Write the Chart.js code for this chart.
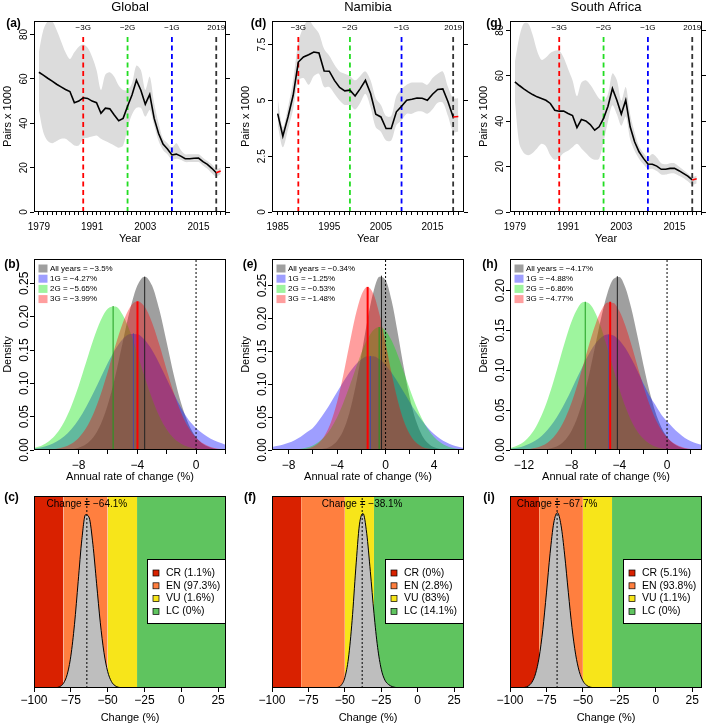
<!DOCTYPE html>
<html>
<head>
<meta charset="utf-8">
<script src="https://cdn.jsdelivr.net/npm/chart.js@4.4.1/dist/chart.umd.min.js"></script>
<style>
  body { margin: 0; background: #fff; width: 709px; height: 724px; position: relative; overflow: hidden; }
  canvas { position: absolute; }
</style>
</head>
<body>
<script>
const FONT = '"Liberation Sans", Arial, Helvetica, sans-serif';
const minus = v => String(v).replace('-', '\u2212');

/* ===============================
   Top row: breeding pairs (x 1000)
================================ */
const yearsA = [1979,1980,1981,1982,1983,1984,1985,1986,1987,1988,1989,1990,1991,1992,1993,1994,1995,1996,1997,1998,
  1999,2000,2001,2002,2003,2004,2005,2006,2007,2008,2009,2010,2011,2012,2013,2014,2015,2016,2017,2018,2019,2020];
const yearsN = [1985,1986,1987,1988,1989,1990,1991,1992,1993,1994,1995,1996,1997,1998,1999,2000,2001,2002,2003,2004,
  2005,2006,2007,2008,2009,2010,2011,2012,2013,2014,2015,2016,2017,2018,2019,2020];
const projYears = [2019, 2020];

const globalPairs = [63.0,61.7,60.3,59.0,57.6,56.4,55.2,54.3,49.3,50.0,51.5,51.2,50.0,49.3,44.5,46.8,46.5,43.7,41.1,42.2,
  47.7,52.7,59.4,54.9,48.6,53.0,42.2,35.4,30.6,28.4,25.7,26.1,25.2,24.0,24.0,24.2,24.3,22.7,21.5,19.7,17.7];
const globalUpper = [72,82,86,86,82,77,72,69,72,74.5,75.5,74,70,64,55,62,63,61,57,55,
  55,58,66,64,55,61,49,40,33,31,29,31,28,26,26,26,26,24.5,23,21.5,19.5,20];
const globalLower = [46,36,32,31,32,33,33,31.5,30,30,33,33.5,34,34.5,33,32,31,30,29,30,
  38,44,47,47,43,46,39,32,28,26,23.5,24,23.5,22.5,22.5,22.5,22.5,21,19.5,17.5,16,17];
const globalProj = [17.7, 18.5];

const namPairs = [4.41,3.40,4.26,5.23,6.72,6.95,7.05,7.17,7.13,6.32,6.31,5.90,5.58,5.43,5.46,5.20,5.53,5.90,5.31,4.38,
  4.26,3.74,3.74,4.49,4.74,5.01,5.05,5.11,5.10,5.01,5.28,5.49,5.52,4.94,4.26];
const namUpper = [5.1,3.8,4.7,5.9,7.6,8.3,8.6,8.3,8.0,7.3,7.0,6.6,6.3,6.2,6.1,5.9,6.1,6.3,5.9,5.1,
  4.8,4.3,4.3,5.2,5.5,5.7,5.8,5.8,5.8,5.7,6.0,6.2,6.3,5.6,5.1,5.1];
const namLower = [3.9,2.9,3.7,4.6,5.9,6.0,5.7,6.1,6.2,5.6,5.6,5.3,5.0,4.8,4.8,4.6,4.9,5.3,4.7,3.8,
  3.6,3.2,3.2,3.9,4.1,4.4,4.4,4.5,4.5,4.4,4.6,4.9,4.9,4.3,3.6,3.6];
const namProj = [4.26, 4.28];

const saPairs = [57.3,55.7,54.2,52.9,51.7,50.7,50.0,49.2,47.8,44.8,44.4,44.4,43.4,42.5,37.2,40.7,40.1,38.5,36.0,37.5,
  41.2,46.6,54.4,49.2,43.1,49.2,37.5,30.9,26.5,23.6,21.1,21.0,20.2,18.8,18.8,19.2,19.2,18.2,17.0,15.8,14.1];
const saUpper = [66,77,83,83,78,71,67,68,70,71,71,68,63,58,51,57,58,56,53,50,
  49,52,61,58,49,55,43,35,29,26,24,25.5,24,21.5,21,21.5,21.5,20,18.5,17,15.5,16];
const saLower = [49,30,26,25,26,28,30,29,25,23,24,26,27,28.5,30,28,26,24,23,23.5,
  31,40,47,43,38,42,32,27,23.5,21,19,19,18,16.5,16.5,17,17,16,15,13.5,12,12.5];
const saProj = [14.1, 14.6];

const genYears = [1989, 1999, 2009, 2019];
const genLabels = ['\u22123G', '\u22122G', '\u22121G', '2019'];
const genColors = ['#ff0000', '#22dd22', '#0000ff', '#333333'];

const yearLabelsA = [1979, 1991, 2003, 2015];
const yearLabelsN = [1985, 1995, 2005, 2015];
const pairTicksA = [0, 20, 40, 60, 80];
const pairTicksN = [0, 2.5, 5, 7.5];

/* ===============================
   Middle row: annual rate of change densities
================================ */
const distNames = ['All years', '1G', '2G', '3G'];

const bX = [-11,-10.5,-10,-9.5,-9,-8.5,-8,-7.5,-7,-6.5,-6,-5.5,-5,-4.5,-4,-3.5,-3,-2.5,-2,-1.5,-1,-0.5,0,0.5,1,1.5,2];
const bAll = [0,0,0,0.0001,0.0004,0.0013,0.0035,0.0087,0.0193,0.0384,0.0689,0.1111,0.1612,0.2102,0.2466,0.260,0.2466,0.2102,0.1612,0.1111,0.0689,0.0384,0.0193,0.0087,0.0035,0.0013,0.0004];
const b1G = [0.0022,0.0042,0.0074,0.0126,0.0203,0.0313,0.0459,0.0642,0.0855,0.1085,0.1312,0.1513,0.1663,0.1741,0.1738,0.1653,0.1499,0.1295,0.1066,0.0837,0.0626,0.0450,0.033,0.024,0.017,0.012,0.008];
const b2G = [0.0033,0.0069,0.0135,0.0246,0.0417,0.0657,0.0961,0.1308,0.1654,0.1943,0.2122,0.2153,0.2030,0.1779,0.1449,0.1097,0.0772,0.0505,0.0307,0.0173,0.0091,0.0044,0.0020,0.0008,0.0003,0.0001,0];
const b3G = [0.0001,0.0003,0.0008,0.0019,0.0044,0.0093,0.0181,0.0325,0.0541,0.0833,0.1186,0.1562,0.1901,0.2141,0.2230,0.2148,0.1913,0.1577,0.1201,0.0847,0.0552,0.0332,0.0185,0.0096,0.0046,0.0020,0.0008];
const bMeans = [-3.5, -4.27, -5.65, -3.99];
const bPeaks = [0.260, 0.175, 0.216, 0.223];

const eX = [-9.5,-9,-8.5,-8,-7.5,-7,-6.5,-6,-5.5,-5,-4.5,-4,-3.5,-3,-2.5,-2,-1.5,-1,-0.5,0,0.5,1,1.5,2,2.5,3,3.5,4,4.5,5,5.5,6,6.5];
const eAll = [0,0,0,0,0,0,0.0001,0.0002,0.0007,0.0022,0.0058,0.0138,0.0292,0.0556,0.0946,0.1442,0.1969,0.2407,0.2635,0.2583,0.2268,0.1783,0.1255,0.0791,0.0447,0.0226,0.0102,0.0041,0.0015,0.0005,0.0001,0,0];
const e1G = [0.004,0.006,0.008,0.011,0.015,0.020,0.027,0.0336,0.0448,0.0580,0.0726,0.0880,0.1033,0.1175,0.1293,0.1379,0.1424,0.1424,0.1379,0.1293,0.1175,0.1033,0.0880,0.0726,0.0580,0.0448,0.0336,0.0244,0.0171,0.0116,0.0077,0.0049,0.0030];
const e2G = [0,0.0001,0.0002,0.0004,0.0009,0.0019,0.0037,0.0070,0.0124,0.0208,0.0331,0.0498,0.0710,0.0957,0.1221,0.1475,0.1686,0.1825,0.1870,0.1813,0.1664,0.1446,0.1189,0.0925,0.0682,0.0476,0.0314,0.0196,0.0116,0.0065,0.0034,0.0017,0.0008];
const e3G = [0,0,0,0.0001,0.0002,0.0007,0.0019,0.0048,0.0109,0.0227,0.0426,0.0728,0.1128,0.1587,0.2029,0.2354,0.2480,0.2372,0.2060,0.1624,0.1163,0.0756,0.0446,0.0239,0.0116,0.0051,0.0021,0.0007,0.0002,0.0001,0,0,0];
const eMeans = [-0.34, -1.25, -0.53, -1.48];
const ePeaks = [0.265, 0.143, 0.187, 0.248];

const hX = [-13.5,-13,-12.5,-12,-11.5,-11,-10.5,-10,-9.5,-9,-8.5,-8,-7.5,-7,-6.5,-6,-5.5,-5,-4.5,-4,-3.5,-3,-2.5,-2,-1.5,-1,-0.5,0,0.5,1,1.5,2,2.5,3];
const hAll = [0,0,0,0,0.0001,0.0002,0.0005,0.0014,0.0031,0.0067,0.0133,0.0244,0.0416,0.0659,0.0969,0.1322,0.1674,0.1967,0.2145,0.2171,0.2039,0.1777,0.1438,0.1079,0.0752,0.0486,0.0292,0.0163,0.0084,0.0040,0.0018,0.0007,0.0003,0.0001];
const h1G = [0.0011,0.0019,0.0031,0.0051,0.0080,0.0122,0.0180,0.0256,0.0354,0.0472,0.0610,0.0762,0.0921,0.1077,0.1219,0.1335,0.1414,0.1449,0.1436,0.1378,0.1278,0.1148,0.0997,0.0838,0.0690,0.0570,0.0450,0.036,0.028,0.021,0.015,0.011,0.008,0.006];
const h2G = [0.0015,0.0031,0.0059,0.0105,0.0179,0.0289,0.0441,0.0637,0.0872,0.1131,0.1389,0.1615,0.1779,0.1856,0.1834,0.1716,0.1521,0.1277,0.1015,0.0765,0.0545,0.0368,0.0236,0.0143,0.0082,0.0045,0.0023,0.0011,0.0005,0.0002,0.0001,0,0,0];
const h3G = [0,0.0001,0.0003,0.0006,0.0014,0.0027,0.0052,0.0095,0.0164,0.0266,0.0410,0.0599,0.0828,0.1083,0.1343,0.1578,0.1755,0.1849,0.1845,0.1744,0.1561,0.1323,0.1062,0.0808,0.0582,0.0397,0.0256,0.0157,0.0091,0.0050,0.0026,0.0013,0.0006,0.0003];
const hMeans = [-4.17, -4.88, -6.86, -4.77];
const hPeaks = [0.218, 0.145, 0.186, 0.186];

const densTicks5 = [0, 0.05, 0.10, 0.15, 0.20, 0.25];
const densTicks4 = [0, 0.05, 0.10, 0.15, 0.20];

/* ===============================
   Bottom row: overall change vs IUCN categories
================================ */
const iucnCats = ['CR', 'EN', 'VU', 'LC'];
const iucnEdges = [-100, -80, -50, -30, 35];
const iucnColors = ['#d92100', '#ff7f3f', '#f7e51a', '#5fc45f'];

const cX = [-95,-92.5,-90,-87.5,-85,-82.5,-80,-77.5,-75,-72.5,-70,-67.5,-65,-62.5,-60,-57.5,-55,-52.5,-50,-47.5,-45,-42.5,-40,-37.5,-35];
const cDens = [0,0,0.0001,0.0004,0.0019,0.0077,0.0265,0.0758,0.1814,0.3628,0.6065,0.847,0.9884,0.9702,0.8196,0.5972,0.3753,0.2034,0.0951,0.0383,0.0133,0.0040,0.0010,0.0002,0];
const cPct = [1.1, 97.3, 1.6, 0];

const fX = [-65,-62.5,-60,-57.5,-55,-52.5,-50,-47.5,-45,-42.5,-40,-37.5,-35,-32.5,-30,-27.5,-25,-22.5,-20,-17.5,-15,-12.5,-10,-7.5];
const fDens = [0,0,0.0001,0.0005,0.0033,0.0158,0.0589,0.1708,0.3859,0.679,0.9303,0.9953,0.8825,0.6651,0.426,0.232,0.1073,0.045,0.02,0.008,0.003,0.001,0.0003,0];
const fPct = [0, 2.8, 83, 14.1];

const iX = [-100,-97.5,-95,-92.5,-90,-87.5,-85,-82.5,-80,-77.5,-75,-72.5,-70,-67.5,-65,-62.5,-60,-57.5,-55,-52.5,-50,-47.5,-45,-42.5,-40,-37.5,-35];
const iDens = [0,0,0.0002,0.0009,0.0033,0.0111,0.0322,0.0809,0.1761,0.332,0.5424,0.7676,0.9411,0.9996,0.9283,0.7589,0.5461,0.3458,0.1929,0.0947,0.0409,0.0156,0.0052,0.0015,0.0004,0.0001,0];
const iPct = [5.1, 93.8, 1.1, 0];

const changeMeans = [-64.1, -38.1, -67.7];
const changeTicks = [-100, -75, -50, -25, 0, 25];

/* ===============================
   Layout (page grid)
================================ */
const colX = [0, 236, 472], colW = [236, 236, 237];
const rowY = [0, 245, 484], rowH = [245, 239, 240];
const boxL = [34, 272, 510], boxT = [21, 259, 496];
const BOX_W = 192, BOX_H = [191, 191, 192];

const pts = (xs, ys) => ys.map((y, i) => ({ x: xs[i], y }));
const yFit = s => { s.width = 0; };
const below = row => rowY[row] + rowH[row] - boxT[row] - BOX_H[row];

function mount(id, col, row) {
  const c = document.createElement('canvas');
  c.id = id;
  c.width = colW[col];
  c.height = rowH[row];
  c.style.left = colX[col] + 'px';
  c.style.top = rowY[row] + 'px';
  document.body.appendChild(c);
  return c;
}

function padding(col, row) {
  return {
    left: boxL[col] - colX[col],
    top: boxT[row] - rowY[row],
    right: colX[col] + colW[col] - boxL[col] - BOX_W,
    bottom: 0
  };
}

function tickGrid(len) {
  return { display: true, drawOnChartArea: false, drawTicks: true, tickLength: len, color: '#000', tickColor: '#000', lineWidth: 1 };
}

function xAxis(row, min, max, ticks, labelled, tl, pad, size) {
  return {
    type: 'linear', min, max,
    afterBuildTicks: s => { s.ticks = ticks.map(v => ({ value: v })); },
    afterFit: s => { s.height = below(row); },
    grid: tickGrid(tl),
    border: { display: false },
    ticks: {
      autoSkip: false, maxRotation: 0, minRotation: 0, padding: pad, color: '#000',
      font: { family: FONT, size },
      callback: v => labelled.includes(v) ? minus(v) : ''
    }
  };
}

function yAxis(min, max, ticks, pos) {
  return {
    type: 'linear', position: pos, min, max,
    afterBuildTicks: s => { s.ticks = ticks.map(v => ({ value: v })); },
    afterFit: yFit,
    grid: tickGrid(4),
    border: { display: false },
    ticks: { autoSkip: false, callback: () => '' }
  };
}

/* ===============================
   Text, frame and legends
================================ */
const panelDecor = {};

function label(ctx, s, x, y, font, align, rot) {
  ctx.save();
  ctx.translate(x, y);
  if (rot) ctx.rotate(rot);
  ctx.font = font;
  ctx.textAlign = align || 'center';
  ctx.textBaseline = 'middle';
  ctx.fillStyle = '#000';
  ctx.fillText(s, 0, 0);
  ctx.restore();
}

const decorPlugin = {
  id: 'decor',
  afterDraw(chart) {
    const d = panelDecor[chart.canvas.id];
    const { ctx, chartArea: a, scales } = chart;
    const cx = (a.left + a.right) / 2, cy = (a.top + a.bottom) / 2;
    ctx.save();

    if (d.catLegend) {
      const w = 79, h = 65, x0 = Math.round(a.right - w), y0 = Math.round(a.top + 63);
      ctx.fillStyle = '#fff';
      ctx.fillRect(x0, y0, w, h);
      ctx.strokeStyle = '#000';
      ctx.lineWidth = 1;
      ctx.strokeRect(x0 + 0.5, y0 + 0.5, w - 1, h - 1);
      iucnCats.forEach((cat, i) => {
        const yy = y0 + 14 + i * 12.8;
        ctx.fillStyle = iucnColors[i];
        ctx.fillRect(x0 + 6, yy - 3, 6, 6);
        ctx.lineWidth = 0.7;
        ctx.strokeRect(x0 + 6, yy - 3, 6, 6);
        label(ctx, `${cat} (${d.catLegend[i]}%)`, x0 + 19, yy, `10.5px ${FONT}`, 'left');
      });
    }

    ctx.strokeStyle = '#000';
    ctx.lineWidth = 1;
    ctx.strokeRect(Math.round(a.left) + 0.5, Math.round(a.top) + 0.5,
      Math.round(a.right - a.left) - 1, Math.round(a.bottom - a.top) - 1);

    if (d.title) label(ctx, d.title, cx, a.top - 13.5, `13px ${FONT}`);
    label(ctx, d.letter, a.left + d.ldx, a.top + d.ldy, `bold 12px ${FONT}`);
    label(ctx, d.xTitle, cx, a.bottom + d.xdy, `11px ${FONT}`);
    if (d.yTitle) label(ctx, d.yTitle, a.left - 26.5, cy, `11px ${FONT}`, 'center', -Math.PI / 2);

    if (d.yFmt) {
      scales.y.ticks.forEach(t => {
        label(ctx, d.yFmt(t.value), a.left - 9.5, scales.y.getPixelForValue(t.value),
          `${d.ySize}px ${FONT}`, 'center', -Math.PI / 2);
      });
    }

    if (d.gen) {
      genYears.forEach((g, i) => {
        label(ctx, genLabels[i], scales.x.getPixelForValue(g), a.top + 6.5, `8px ${FONT}`);
      });
    }

    if (d.distLegend) {
      distNames.forEach((n, i) => {
        const yy = a.top + 9.5 + i * 10.2;
        ctx.fillStyle = distSwatch[i];
        ctx.fillRect(a.left + 4.5, yy - 4, 9, 8);
        label(ctx, `${n} = ${minus(d.distLegend[i])}%`, a.left + 16, yy, `8px ${FONT}`, 'left');
      });
    }

    if (d.change !== undefined) {
      label(ctx, `Change = ${minus(d.change)}%`, scales.x.getPixelForValue(d.change), a.top + 8.5, `10px ${FONT}`);
    }
    ctx.restore();
  }
};

function baseOptions(col, row, scales) {
  return {
    responsive: false,
    animation: false,
    devicePixelRatio: 1,
    events: [],
    layout: { padding: padding(col, row) },
    plugins: { legend: { display: false }, tooltip: { enabled: false } },
    elements: { point: { radius: 0 } },
    scales
  };
}

/* ===============================
   Top row charts
================================ */
function trajectoryChart(id, col, years, pairs, upper, lower, proj, yMax, yTicks, yearLabels, tickEnd, xMin, xMax, decor) {
  const canvas = mount(id, col, 0);
  panelDecor[id] = decor;
  const top = yMax * 0.93;
  const yearTicks = [];
  for (let y = yearLabels[0]; y <= tickEnd; y++) yearTicks.push(y);

  const datasets = [
    { data: pts(years, lower), borderColor: 'rgba(0,0,0,0)', borderWidth: 0, fill: false, tension: 0.3, order: 9 },
    { data: pts(years, upper), borderColor: 'rgba(0,0,0,0)', borderWidth: 0, fill: '-1', backgroundColor: '#dcdcdc', tension: 0.3, order: 8 },
    ...genYears.map((g, i) => ({
      data: [{ x: g, y: 0 }, { x: g, y: top }],
      borderColor: genColors[i], borderWidth: 1.8, borderDash: [5, 3.5], order: 3
    })),
    { data: pts(years, pairs), borderColor: '#000', borderWidth: 1.6, tension: 0, order: 1 },
    { data: pts(projYears, proj), borderColor: '#ff0000', borderWidth: 1.6, order: 0 }
  ];

  return new Chart(canvas, {
    type: 'line',
    data: { datasets },
    options: baseOptions(col, 0, {
      x: xAxis(0, xMin, xMax, yearTicks, yearLabels, 3, 6.5, 10),
      y: yAxis(0, yMax, yTicks, 'left'),
      y2: yAxis(0, yMax, yTicks, 'right')
    }),
    plugins: [decorPlugin]
  });
}

/* ===============================
   Middle row charts
================================ */
const distFill = ['rgba(80,80,80,0.55)', 'rgba(0,0,255,0.38)', 'rgba(0,230,0,0.38)', 'rgba(255,0,0,0.38)'];
const distSwatch = ['#9f9f9f', '#9e9eff', '#9ef59e', '#ff9e9e'];
const meanColors = ['#222222', '#4a4aa0', '#1e9e1e', '#ff0000'];

function densityChart(id, col, xs, curves, means, peaks, xMin, xMax, xTicks, xLabels, yMax, yTicks, decor) {
  const canvas = mount(id, col, 1);
  panelDecor[id] = decor;
  const datasets = [
    ...curves.map((ys, i) => ({
      data: pts(xs, ys), fill: 'origin', backgroundColor: distFill[i],
      borderColor: 'rgba(0,0,0,0)', borderWidth: 0, cubicInterpolationMode: 'monotone', order: 20 - i
    })),
    ...means.map((m, i) => ({
      data: [{ x: m, y: 0 }, { x: m, y: peaks[i] }],
      borderColor: meanColors[i], borderWidth: i === 3 ? 2 : 1, order: 8 - i
    })),
    { data: [{ x: 0, y: 0 }, { x: 0, y: yMax }], borderColor: '#000', borderWidth: 1, borderDash: [2, 2], order: 0 }
  ];

  return new Chart(canvas, {
    type: 'line',
    data: { datasets },
    options: baseOptions(col, 1, {
      x: xAxis(1, xMin, xMax, xTicks, xLabels, 4, 4, 12),
      y: yAxis(0, yMax, yTicks, 'left')
    }),
    plugins: [decorPlugin]
  });
}

/* ===============================
   Bottom row charts
================================ */
function changeChart(id, col, xs, dens, mean, xMax, decor) {
  const canvas = mount(id, col, 2);
  panelDecor[id] = decor;
  const yMax = 1.095;
  const datasets = [
    ...iucnColors.map((c, i) => ({
      data: [{ x: iucnEdges[i], y: yMax }, { x: iucnEdges[i + 1], y: yMax }],
      fill: 'origin', backgroundColor: c, borderColor: c, borderWidth: 0.5, order: 30
    })),
    { data: pts(xs, dens), fill: 'origin', backgroundColor: '#bebebe', borderColor: '#000', borderWidth: 1,
      cubicInterpolationMode: 'monotone', order: 10 },
    { data: [{ x: mean, y: 0 }, { x: mean, y: yMax }], borderColor: '#000', borderWidth: 1, borderDash: [2, 2], order: 1 }
  ];

  return new Chart(canvas, {
    type: 'line',
    data: { datasets },
    options: baseOptions(col, 2, {
      x: xAxis(2, -100, xMax, changeTicks, changeTicks, 4, 1, 12),
      y: { type: 'linear', display: false, min: 0, max: yMax }
    }),
    plugins: [decorPlugin]
  });
}

/* ===============================
   Init
================================ */
const fmtInt = v => String(v);
const fmtDens = v => v.toFixed(2);

trajectoryChart('pa', 0, yearsA, globalPairs, globalUpper, globalLower, globalProj, 86.1, pairTicksA, yearLabelsA, 2021, 1977.9, 2021.2,
  { title: 'Global', letter: '(a)', ldx: -20.5, ldy: 2.7, xTitle: 'Year', xdy: 27, yTitle: 'Pairs x 1000', yFmt: fmtInt, ySize: 10, gen: true });
trajectoryChart('pd', 1, yearsN, namPairs, namUpper, namLower, namProj, 8.56, pairTicksN, yearLabelsN, 2020, 1983.9, 2021.1,
  { title: 'Namibia', letter: '(d)', ldx: -13.5, ldy: 2.7, xTitle: 'Year', xdy: 27, yTitle: 'Pairs x 1000', yFmt: fmtInt, ySize: 10, gen: true });
trajectoryChart('pg', 2, yearsA, saPairs, saUpper, saLower, saProj, 84.1, pairTicksA, yearLabelsA, 2021, 1977.9, 2021.2,
  { title: 'South Africa', letter: '(g)', ldx: -16, ldy: 2.7, xTitle: 'Year', xdy: 27, yTitle: 'Pairs x 1000', yFmt: fmtInt, ySize: 10, gen: true });

densityChart('pb', 0, bX, [bAll, b1G, b2G, b3G], bMeans, bPeaks, -11.04, 2.04, [-10, -8, -6, -4, -2, 0, 2], [-8, -4, 0], 0.2865, densTicks5,
  { letter: '(b)', ldx: -22, ldy: 5.5, xTitle: 'Annual rate of change (%)', xdy: 27, yTitle: 'Density', yFmt: fmtDens, ySize: 12, distLegend: bMeans });
densityChart('pe', 1, eX, [eAll, e1G, e2G, e3G], eMeans, ePeaks, -9.37, 6.47, [-8, -6, -4, -2, 0, 2, 4, 6], [-8, -4, 0, 4], 0.2904, densTicks5,
  { letter: '(e)', ldx: -22, ldy: 5.5, xTitle: 'Annual rate of change (%)', xdy: 27, yTitle: 'Density', yFmt: fmtDens, ySize: 12, distLegend: eMeans });
densityChart('ph', 2, hX, [hAll, h1G, h2G, h3G], hMeans, hPeaks, -13.17, 2.93, [-12, -10, -8, -6, -4, -2, 0, 2], [-12, -8, -4, 0], 0.2396, densTicks4,
  { letter: '(h)', ldx: -20, ldy: 5.5, xTitle: 'Annual rate of change (%)', xdy: 27, yTitle: 'Density', yFmt: fmtDens, ySize: 12, distLegend: hMeans });

changeChart('pc', 0, cX, cDens, changeMeans[0], 30.4,
  { letter: '(c)', ldx: -22.5, ldy: 1.5, xTitle: 'Change (%)', xdy: 30, catLegend: cPct, change: changeMeans[0] });
changeChart('pf', 1, fX, fDens, changeMeans[1], 31.8,
  { letter: '(f)', ldx: -22, ldy: 1.5, xTitle: 'Change (%)', xdy: 30, catLegend: fPct, change: changeMeans[1] });
changeChart('pi', 2, iX, iDens, changeMeans[2], 31.7,
  { letter: '(i)', ldx: -21, ldy: 1.5, xTitle: 'Change (%)', xdy: 30, catLegend: iPct, change: changeMeans[2] });
</script>
</body>
</html>
